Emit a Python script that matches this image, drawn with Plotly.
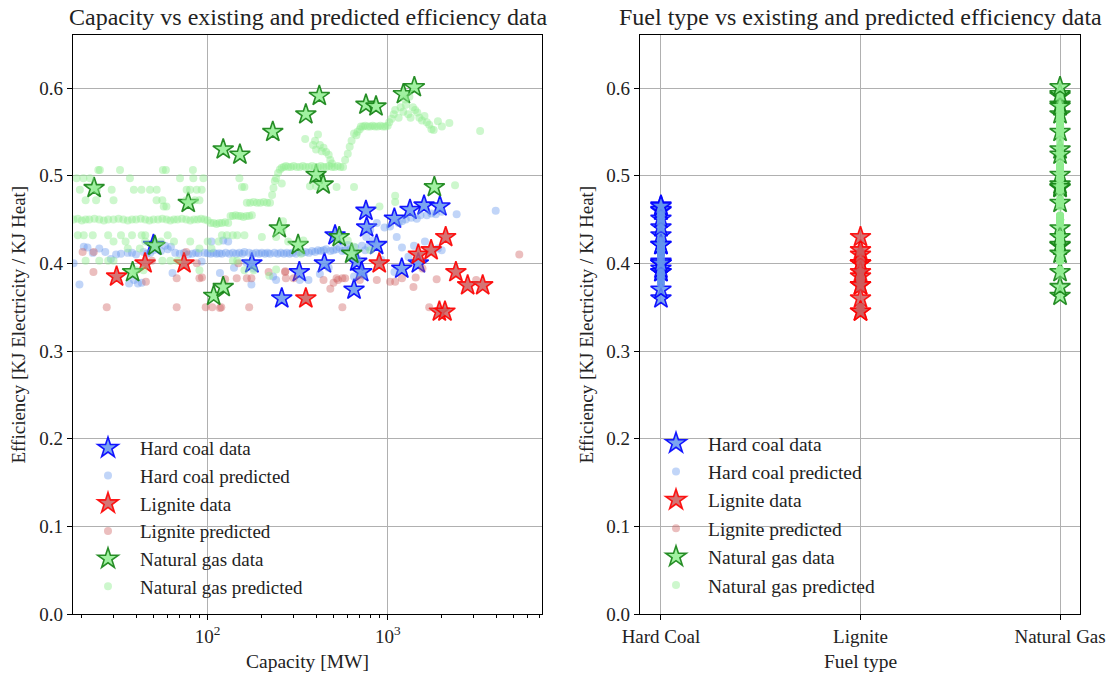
import plotly.graph_objects as go

# ---------------- measured plant data ----------------
hc_data_cap = [50, 176, 258, 323, 445, 510, 757, 764, 868, 673, 717, 650, 1089, 1330, 1592, 1950, 1197, 1479]
hc_data_eff = [0.421, 0.400, 0.360, 0.390, 0.400, 0.432, 0.460, 0.441, 0.421, 0.402, 0.390, 0.370,
               0.451, 0.461, 0.466, 0.465, 0.394, 0.400]

lig_data_cap = [31.2, 44.9, 73.9, 351, 897, 1479, 1742, 2099, 2392, 2780, 3370, 1936, 2080]
lig_data_eff = [0.385, 0.400, 0.400, 0.360, 0.400, 0.410, 0.415, 0.430, 0.390, 0.375, 0.375, 0.345, 0.345]

gas_data_cap = [23.4, 78, 50.9, 38.3, 122, 151, 230, 250, 108, 122, 318, 417, 351, 757, 861, 1222, 1406,
                400, 438, 1816, 538, 631]
gas_data_eff = [0.486, 0.469, 0.420, 0.390, 0.530, 0.524, 0.550, 0.440, 0.363, 0.373, 0.421, 0.591, 0.570,
                0.581, 0.579, 0.593, 0.601, 0.501, 0.490, 0.487, 0.430, 0.411]

# ---------------- model predictions ----------------
hc_pred_cap = [18, 19.4, 20.5, 21.5, 23, 25, 27, 29, 31, 33, 36, 36.6, 38, 39, 40, 41, 43, 44, 46, 48, 50, 52,
               55, 58, 60, 62.5, 63.8, 66, 70, 74, 78, 82, 86, 89, 92.6, 96, 100,
               104, 108, 105, 112, 116, 117, 120, 122, 126, 130, 132, 138, 140, 144, 150, 156, 160, 164, 170,
               175, 178, 180, 186, 193, 200, 208, 215, 222, 231, 235, 240, 245, 255, 265, 275,
               285, 296, 310, 325, 322, 335, 350, 363, 365, 380, 395, 410, 420, 425, 440, 455, 470, 480, 500,
               520, 540, 560, 580, 600, 620, 640, 650, 660, 680, 700, 720, 740, 750, 760, 780, 800, 830, 870,
               920, 960, 1030, 1090, 1122, 1150, 1200, 1200, 1260, 1303, 1350, 1400, 1450, 1520, 1610, 1650,
               1750, 1850, 1900, 1995, 1995, 2415, 3980]
hc_pred_eff = [0.400, 0.376, 0.419, 0.418, 0.412, 0.417, 0.413, 0.405, 0.410, 0.411, 0.412, 0.377, 0.412, 0.381,
               0.410, 0.377, 0.378, 0.413, 0.411, 0.412, 0.415, 0.418, 0.414, 0.420, 0.416, 0.419, 0.389, 0.412,
               0.411, 0.412, 0.410, 0.411, 0.412, 0.4115, 0.402, 0.412, 0.4115,
               0.411, 0.412, 0.425, 0.411, 0.4115, 0.389, 0.411, 0.426, 0.412, 0.425, 0.411, 0.412, 0.395, 0.411,
               0.412, 0.411, 0.413, 0.401, 0.412, 0.376, 0.411, 0.394, 0.412, 0.411, 0.412, 0.411, 0.412, 0.411,
               0.385, 0.412, 0.381, 0.411, 0.412, 0.411, 0.412,
               0.411, 0.412, 0.411, 0.381, 0.413, 0.412, 0.413, 0.381, 0.412, 0.414, 0.413, 0.415, 0.388, 0.414,
               0.415, 0.416, 0.395, 0.414, 0.415, 0.416, 0.418, 0.414, 0.415, 0.421, 0.416, 0.410, 0.385, 0.418,
               0.405, 0.387, 0.420, 0.386, 0.415, 0.430, 0.419, 0.438, 0.426, 0.446, 0.404, 0.441, 0.442, 0.390,
               0.430, 0.446, 0.448, 0.418, 0.450, 0.4075, 0.452, 0.420, 0.451, 0.455, 0.425, 0.455, 0.457, 0.456,
               0.417, 0.459, 0.415, 0.456, 0.460]

lig_pred_cap = [20.2, 23.3, 23.2, 27.5, 45.4, 49, 67.3, 67.3, 76, 87, 90, 93, 97.5, 106, 117, 119, 125, 145,
                148, 165, 170, 175, 218, 269, 270, 272, 300, 440, 480, 500, 520, 530, 560, 560, 580, 700, 870,
                1030, 1100, 1200, 1390, 1430, 1560, 1700, 1870, 3100, 5380]
lig_pred_eff = [0.413, 0.413, 0.390, 0.350, 0.379, 0.403, 0.350, 0.383, 0.413, 0.400, 0.383, 0.384, 0.350,
                0.350, 0.349, 0.350, 0.382, 0.383, 0.400, 0.383, 0.350, 0.383, 0.390, 0.390, 0.391, 0.383,
                0.383, 0.381, 0.371, 0.378, 0.383, 0.381, 0.383, 0.350, 0.383, 0.381, 0.381, 0.379, 0.379,
                0.383, 0.373, 0.384, 0.394, 0.350, 0.382, 0.381, 0.410]

gas_pred_cap = [18, 19, 20, 21, 22, 23.5, 25, 26.5, 28, 30, 32, 34, 36, 38, 40, 42.5, 45, 47.5, 50, 53, 56, 59,
                62, 65, 68, 72, 76, 80, 84, 88, 92, 96, 100,
                104, 108, 112, 116, 120, 125, 130,
                134, 138, 143, 148, 153, 158, 164, 170, 176,
                165, 172, 180, 188, 196, 205, 214, 222,
                228, 232, 236, 240, 246, 252, 258, 265, 272,
                280, 290, 300, 312, 325, 338, 350, 365, 380, 395, 410, 425, 440, 456, 472, 490, 508, 527, 546, 565,
                348, 385, 395, 400, 410, 420, 430, 440, 455, 470, 480, 490,
                580, 600, 615, 630, 650, 670, 680, 700,
                710, 730, 750, 775, 800, 825, 850, 880, 910, 940, 970, 1000,
                1020, 1050, 1080, 1100, 1150, 1180, 1220, 1250, 1260, 1300, 1320, 1340, 1380, 1420, 1460, 1500,
                1550, 1600, 1650, 1700, 1750, 1800, 1900, 2000, 2200, 3260,
                24.7, 25.2, 32.6, 56.4, 58.6, 82.8,
                18.7, 20.4, 22.2, 37, 70.2, 83.2, 94.6, 150,
                19.5, 24.2, 29.3, 38.9, 42.9, 47.8, 52.1, 76.4, 79.8, 86.9, 92.6, 155, 160,
                21, 24, 30, 52, 56, 76, 85, 90,
                57, 59,
                19, 20.5, 23, 28, 33, 38, 43, 45, 60, 120, 128, 138, 146, 160,
                30, 35, 45, 55, 65, 80, 100, 115,
                36, 42, 90, 105,
                21, 25, 28, 30, 56, 62, 68, 138, 146,
                40, 44, 90, 160, 180,
                258, 370, 400, 520, 650, 2366, 1100, 1100, 900, 262, 260, 340, 600, 650, 800, 200, 240, 280, 330,
                220, 240]
gas_pred_eff = [0.450, 0.451, 0.449, 0.450, 0.450, 0.451, 0.450, 0.449, 0.450, 0.450, 0.451, 0.450, 0.449,
                0.450, 0.450, 0.451, 0.450, 0.449, 0.450, 0.450, 0.451, 0.450, 0.449, 0.450, 0.450, 0.451,
                0.450, 0.449, 0.450, 0.450, 0.451, 0.450, 0.449,
                0.446, 0.446, 0.445, 0.446, 0.446, 0.447, 0.446,
                0.454, 0.454, 0.455, 0.454, 0.454, 0.453, 0.454, 0.454, 0.455,
                0.469, 0.469, 0.470, 0.469, 0.469, 0.470, 0.469, 0.469,
                0.478, 0.486, 0.494, 0.497, 0.503, 0.507, 0.509, 0.510, 0.511,
                0.510, 0.510, 0.511, 0.510, 0.510, 0.511, 0.510, 0.510, 0.511, 0.510, 0.510, 0.511, 0.510, 0.510,
                0.511, 0.510, 0.510, 0.511, 0.510, 0.510,
                0.542, 0.535, 0.540, 0.530, 0.547, 0.535, 0.528, 0.532, 0.527, 0.524, 0.518, 0.514,
                0.518, 0.525, 0.533, 0.540, 0.548, 0.546, 0.550, 0.553,
                0.556, 0.556, 0.557, 0.556, 0.556, 0.557, 0.556, 0.556, 0.557, 0.556, 0.556, 0.557,
                0.561, 0.565, 0.570, 0.575, 0.566, 0.578, 0.573, 0.587, 0.581, 0.570, 0.590, 0.566, 0.578,
                0.575, 0.572, 0.566, 0.563, 0.568, 0.561, 0.558, 0.553, 0.552, 0.562, 0.556, 0.560, 0.551,
                0.5065, 0.5065, 0.5065, 0.5065, 0.5065, 0.5065,
                0.497, 0.497, 0.497, 0.497, 0.497, 0.497, 0.497, 0.497,
                0.484, 0.484, 0.484, 0.484, 0.484, 0.484, 0.484, 0.484, 0.484, 0.484, 0.484, 0.487, 0.487,
                0.472, 0.472, 0.472, 0.472, 0.472, 0.472, 0.472, 0.472,
                0.465, 0.465,
                0.432, 0.432, 0.432, 0.432, 0.432, 0.432, 0.432, 0.432, 0.432, 0.432, 0.432, 0.432, 0.432, 0.432,
                0.425, 0.425, 0.425, 0.425, 0.425, 0.425, 0.425, 0.425,
                0.417, 0.417, 0.417, 0.417,
                0.403, 0.403, 0.403, 0.403, 0.403, 0.403, 0.403, 0.403, 0.403,
                0.392, 0.392, 0.392, 0.392, 0.392,
                0.491, 0.488, 0.488, 0.487, 0.487, 0.489, 0.477, 0.470, 0.465, 0.448, 0.438, 0.426, 0.426,
                0.419, 0.415, 0.430, 0.430, 0.425, 0.411, 0.386, 0.393]

fuel_types = ["Hard Coal", "Lignite", "Natural Gas"]
cap_ticks = [100, 1000]
cap_tick_text = ["10<sup>2</sup>", "10<sup>3</sup>"]
cap_minor_ticks = [20, 30, 40, 50, 60, 70, 80, 90, 200, 300, 400, 500, 600, 700, 800, 900,
                   2000, 3000, 4000, 5000, 6000, 7000]

FONT = "Liberation Serif"
W, H = 1116, 673

series = [
    ("Hard coal data", hc_data_cap, hc_data_eff, "data", "rgba(100,149,237,0.85)", "rgba(0,0,255,0.9)", 0),
    ("Hard coal predicted", hc_pred_cap, hc_pred_eff, "pred", "rgba(100,149,237,0.4)", None, 0),
    ("Lignite data", lig_data_cap, lig_data_eff, "data", "rgba(205,92,92,0.85)", "rgba(255,0,0,0.9)", 1),
    ("Lignite predicted", lig_pred_cap, lig_pred_eff, "pred", "rgba(205,92,92,0.4)", None, 1),
    ("Natural gas data", gas_data_cap, gas_data_eff, "data", "rgba(144,238,144,0.85)", "rgba(20,130,20,0.9)", 2),
    ("Natural gas predicted", gas_pred_cap, gas_pred_eff, "pred", "rgba(144,238,144,0.45)", None, 2),
]


def marker_for(kind, fill, edge):
    if kind == "data":
        return dict(symbol="star", size=15.5, color=fill, line=dict(color=edge, width=1.6))
    return dict(symbol="circle", size=8, color=fill, line=dict(width=0))


fig = go.Figure()
for name, cap, eff, kind, fill, edge, k in series:
    fig.add_trace(go.Scatter(x=cap, y=eff, mode="markers", name=name,
                             marker=marker_for(kind, fill, edge),
                             xaxis="x", yaxis="y", legend="legend"))
for name, cap, eff, kind, fill, edge, k in series:
    fig.add_trace(go.Scatter(x=[fuel_types[k]] * len(eff), y=eff, mode="markers", name=name,
                             marker=marker_for(kind, fill, edge),
                             xaxis="x2", yaxis="y2", legend="legend2"))

axis_common = dict(showline=True, linecolor="black", linewidth=1.3, mirror=True,
                   ticks="outside", ticklen=5, tickwidth=1.2, tickcolor="black",
                   showgrid=True, gridcolor="#b0b0b0", gridwidth=1, zeroline=False,
                   tickfont=dict(family=FONT, size=19, color="#222"), automargin=False)

y_dom = [(H - 614) / H, (H - 35) / H]
x1_dom = [73 / W, 542 / W]
x2_dom = [640 / W, 1080 / W]

fig.update_layout(
    width=W, height=H,
    margin=dict(l=0, r=0, t=0, b=0),
    paper_bgcolor="white", plot_bgcolor="white",
    font=dict(family=FONT, color="#222"),
    xaxis=dict(type="log", domain=x1_dom, range=[1.252, 3.857], anchor="y",
               tickmode="array", tickvals=cap_ticks, ticktext=cap_tick_text,
               minor=dict(tickvals=cap_minor_ticks, ticks="outside", ticklen=3, tickwidth=1,
                          tickcolor="black", showgrid=False),
               **axis_common),
    yaxis=dict(domain=y_dom, range=[0, 0.6605], dtick=0.1, tick0=0, tickformat=".1f", anchor="x",
               **axis_common),
    xaxis2=dict(type="category", domain=x2_dom, range=[-0.105, 2.1], anchor="y2",
                categoryorder="array", categoryarray=fuel_types, **axis_common),
    yaxis2=dict(domain=y_dom, range=[0, 0.6605], dtick=0.1, tick0=0, tickformat=".1f", anchor="x2",
                **axis_common),
    legend=dict(x=76 / W, y=1 - 429 / H, xanchor="left", yanchor="top", bgcolor="rgba(0,0,0,0)",
                itemwidth=54, font=dict(family=FONT, size=19, color="#222")),
    legend2=dict(x=644 / W, y=1 - 424 / H, xanchor="left", yanchor="top", bgcolor="rgba(0,0,0,0)",
                 itemwidth=54, font=dict(family=FONT, size=19.5, color="#222")),
    showlegend=True,
)

annots = [
    dict(text="Capacity vs existing and predicted efficiency data", x=sum(x1_dom) / 2, y=1 - 17 / H,
         font=dict(size=24)),
    dict(text="Fuel type vs existing and predicted efficiency data", x=sum(x2_dom) / 2, y=1 - 17 / H,
         font=dict(size=24)),
    dict(text="Capacity [MW]", x=sum(x1_dom) / 2, y=1 - 661 / H, font=dict(size=19.5)),
    dict(text="Fuel type", x=sum(x2_dom) / 2, y=1 - 661 / H, font=dict(size=19.5)),
    dict(text="Efficiency [KJ Electricity / KJ Heat]", x=18 / W, y=1 - 324.5 / H, textangle=-90,
         font=dict(size=19)),
    dict(text="Efficiency [KJ Electricity / KJ Heat]", x=586 / W, y=1 - 324.5 / H, textangle=-90,
         font=dict(size=19)),
]
for a in annots:
    a["font"].update(family=FONT, color="#222")
    fig.add_annotation(xref="paper", yref="paper", showarrow=False, xanchor="center", yanchor="middle", **a)

fig.write_html("out.html")
